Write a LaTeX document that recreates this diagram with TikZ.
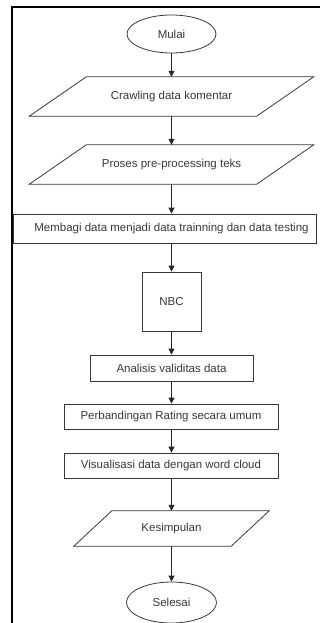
\documentclass[tikz,border=0pt]{standalone}
\usepackage{fontspec}
\setmainfont{Liberation Sans}
\usetikzlibrary{arrows.meta,shapes.geometric}
\begin{document}
\begin{tikzpicture}[x=1pt,y=-1pt,
  every node/.style={font=\fontsize{11.5}{13}\selectfont, text=black!78, inner sep=0pt},
  ln/.style={draw=black!78, line width=0.8pt},
  box/.style={ln, rectangle},
  oval/.style={ln, ellipse},
  arr/.style={draw=black!85, line width=0.8pt, -{Triangle[length=6pt,width=6pt]}}
]
\useasboundingbox (0,0) rectangle (320,623);
\begin{scope}
\clip (0,0) rectangle (320,623);
\draw[line width=1.6pt, black] (12,640) -- (12,7) -- (330,7);
\end{scope}

\node[oval, minimum width=89pt, minimum height=38pt] (mulai) at (171.5,34) {Mulai};

\node[minimum width=227pt, minimum height=39pt] (crawl) at (171.5,96.5) {Crawling data komentar};
\draw[ln] ([xshift=28.5pt]crawl.north west) -- ([xshift=28.5pt]crawl.north east)
  -- ([xshift=-28.5pt]crawl.south east) -- ([xshift=-28.5pt]crawl.south west) -- cycle;

\node[minimum width=227pt, minimum height=39pt] (proses) at (171.5,164.5) {Proses pre-processing teks};
\draw[ln] ([xshift=28.5pt]proses.north west) -- ([xshift=28.5pt]proses.north east)
  -- ([xshift=-28.5pt]proses.south east) -- ([xshift=-28.5pt]proses.south west) -- cycle;

\node[box, minimum width=303pt, minimum height=29pt] (split) at (164.5,228.5) {};
\node (splittxt) at (171.5,228.5) {Membagi data menjadi data trainning dan data testing};

\node[box, minimum width=59pt, minimum height=59pt] (nbc) at (171.5,301.5) {NBC};

\node[box, minimum width=163pt, minimum height=26pt] (analisis) at (171.5,368) {Analisis validitas data};

\node[box, minimum width=214pt, minimum height=25pt] (banding) at (171,416.5) {Perbandingan Rating secara umum};

\node[box, minimum width=214pt, minimum height=25pt] (visual) at (171,465.5) {Visualisasi data dengan word cloud};

\node[minimum width=157pt, minimum height=35pt] (kesimpulan) at (171.5,528.5) {Kesimpulan};
\draw[ln] ([xshift=19pt]kesimpulan.north west) -- ([xshift=19pt]kesimpulan.north east)
  -- ([xshift=-19pt]kesimpulan.south east) -- ([xshift=-19pt]kesimpulan.south west) -- cycle;

\node[oval, minimum width=90pt, minimum height=41pt] (selesai) at (171.5,602.5) {Selesai};

\draw[arr] (mulai.south) -- (crawl.north);
\draw[arr] (crawl.south) -- (proses.north);
\draw[arr] (proses.south) -- (proses.south |- split.north);
\draw[arr] (nbc.north |- split.south) -- (nbc.north);
\draw[arr] (nbc.south) -- (analisis.north);
\draw[arr] (analisis.south) -- (analisis.south |- banding.north);
\draw[arr] (analisis.south |- banding.south) -- (analisis.south |- visual.north);
\draw[arr] (analisis.south |- visual.south) -- (kesimpulan.north);
\draw[arr] (kesimpulan.south) -- (selesai.north);
\end{tikzpicture}
\end{document}
